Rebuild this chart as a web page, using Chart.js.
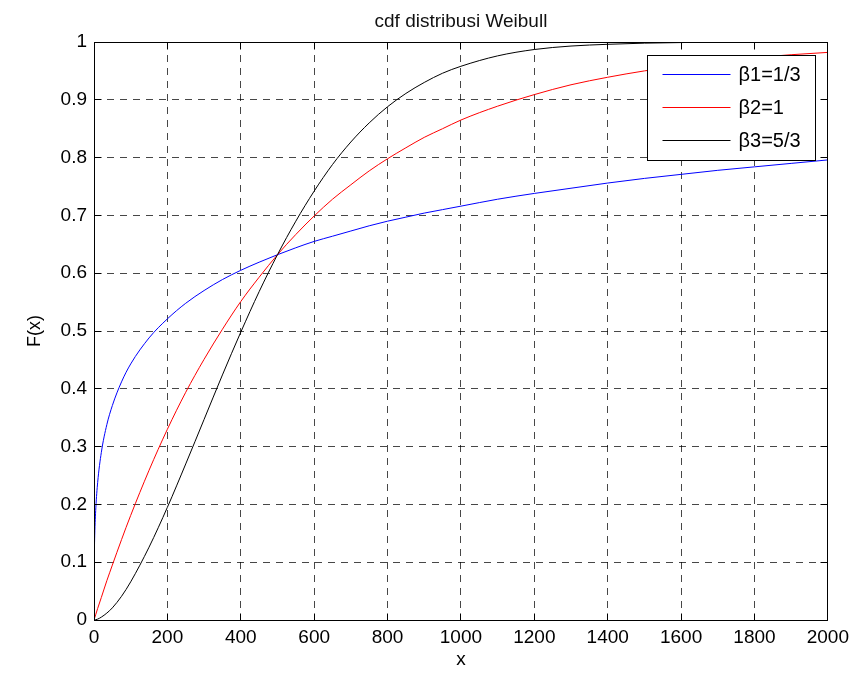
<!DOCTYPE html>
<html>
<head>
<meta charset="utf-8">
<script src="https://cdn.jsdelivr.net/npm/chart.js@4/dist/chart.umd.min.js"></script>
<style>
  html, body { margin: 0; padding: 0; background: #ffffff; }
  canvas { display: block; }
</style>
</head>
<body>
<canvas id="c" width="855" height="675"></canvas>
<script>
// ---- data ----
const xs = [0, 0.5, 1, 2, 5, 10, 20, 35, 50, 75,
            100, 150, 200, 250, 300, 350, 400, 450, 500, 550,
            600, 650, 700, 750, 800, 850, 900, 950, 1000,
            1100, 1200, 1300, 1400, 1500, 1600, 1700, 1800, 1900, 2000];

const beta1 = [0, 0.095, 0.118, 0.147, 0.194, 0.238, 0.290, 0.338, 0.371, 0.412,
               0.443, 0.488, 0.521, 0.548, 0.570, 0.589, 0.605, 0.619, 0.632, 0.644,
               0.655, 0.664, 0.673, 0.682, 0.690, 0.697, 0.704, 0.710, 0.716,
               0.728, 0.738, 0.747, 0.756, 0.764, 0.771, 0.778, 0.784, 0.790, 0.796];

const beta2 = [0, 0.001, 0.002, 0.004, 0.010, 0.020, 0.039, 0.068, 0.095, 0.139,
               0.181, 0.259, 0.330, 0.394, 0.451, 0.503, 0.551, 0.593, 0.632, 0.667,
               0.699, 0.728, 0.753, 0.777, 0.798, 0.817, 0.835, 0.850, 0.865,
               0.889, 0.909, 0.926, 0.939, 0.950, 0.959, 0.967, 0.973, 0.978, 0.982];

const beta3 = [0, 0, 0, 0, 0.0005, 0.0015, 0.005, 0.012, 0.021, 0.041,
               0.066, 0.126, 0.195, 0.270, 0.347, 0.424, 0.498, 0.568, 0.632, 0.690,
               0.742, 0.788, 0.827, 0.860, 0.888, 0.911, 0.930, 0.946, 0.958,
               0.976, 0.987, 0.993, 0.996, 0.998, 0.999, 1.0, 1.0, 1.0, 1.0];

const seriesLabels = ['\u03B21=1/3', '\u03B22=1', '\u03B23=5/3'];
const xTicks = [0, 200, 400, 600, 800, 1000, 1200, 1400, 1600, 1800, 2000];
const yTicks = [0, 0.1, 0.2, 0.3, 0.4, 0.5, 0.6, 0.7, 0.8, 0.9, 1];
const yTickLabels = ['0', '0.1', '0.2', '0.3', '0.4', '0.5', '0.6', '0.7', '0.8', '0.9', '1'];

const FONT = "'Liberation Sans', Arial, sans-serif";

function pts(vals) { return xs.map((x, i) => ({ x: x, y: vals[i] })); }

function align(p) { return Math.round(p - 0.5) + 0.5; }

const framePlugin = {
  id: 'frame',
  afterDraw(chart) {
    const { ctx, chartArea: a, scales } = chart;
    const L = align(a.left), R = align(a.right), T = align(a.top), B = align(a.bottom);
    ctx.save();
    ctx.setLineDash([]);
    ctx.strokeStyle = '#000';
    ctx.lineWidth = 1;
    ctx.beginPath();
    ctx.rect(L, T, R - L, B - T);
    ctx.stroke();
    // inward tick marks
    const tl = 7;
    ctx.beginPath();
    xTicks.forEach(v => {
      const px = align(scales.x.getPixelForValue(v));
      ctx.moveTo(px, B); ctx.lineTo(px, B - tl);
      ctx.moveTo(px, T); ctx.lineTo(px, T + tl);
    });
    yTicks.forEach(v => {
      const py = align(scales.y.getPixelForValue(v));
      ctx.moveTo(L, py); ctx.lineTo(L + tl, py);
      ctx.moveTo(R, py); ctx.lineTo(R - tl, py);
    });
    ctx.stroke();

    // legend box
    const bx = align(a.right - 180), by = align(a.top + 13);
    const bw = 168, bh = 105;
    ctx.fillStyle = '#fff';
    ctx.fillRect(bx, by, bw, bh);
    ctx.strokeStyle = '#000';
    ctx.strokeRect(bx, by, bw, bh);
    ctx.font = '20px ' + FONT;
    ctx.textBaseline = 'middle';
    ctx.textAlign = 'left';
    chart.data.datasets.forEach((ds, i) => {
      const ly = align(by + 19 + i * 33);
      ctx.strokeStyle = ds.borderColor;
      ctx.beginPath();
      ctx.moveTo(bx + 15, ly);
      ctx.lineTo(bx + 83, ly);
      ctx.stroke();
      ctx.fillStyle = '#000';
      ctx.fillText(ds.label, bx + 91, ly + 1);
    });
    ctx.restore();
  }
};

new Chart(document.getElementById('c'), {
  type: 'line',
  data: {
    datasets: [
      { label: seriesLabels[0], data: pts(beta1), borderColor: '#0000ff', order: 2 },
      { label: seriesLabels[1], data: pts(beta2), borderColor: '#ff0000', order: 1 },
      { label: seriesLabels[2], data: pts(beta3), borderColor: '#000000', order: 0 }
    ]
  },
  options: {
    responsive: false,
    animation: false,
    devicePixelRatio: 1,
    layout: { padding: { left: 0, right: 27, top: 8, bottom: 0 } },
    elements: {
      line: { borderWidth: 1, fill: false, cubicInterpolationMode: 'monotone' },
      point: { radius: 0, hoverRadius: 0 }
    },
    plugins: {
      legend: { display: false },
      tooltip: { enabled: false },
      title: {
        display: true,
        fullSize: false,
        text: 'cdf distribusi Weibull',
        color: '#111',
        font: { family: FONT, size: 19, weight: 'normal' },
        padding: { top: 2, bottom: 9.2 }
      }
    },
    scales: {
      x: {
        type: 'linear',
        min: 0, max: 2000,
        afterBuildTicks: s => { s.ticks = xTicks.map(v => ({ value: v })); },
        afterFit: s => { s.height = 55; },
        ticks: {
          color: '#000',
          font: { family: FONT, size: 19 },
          padding: 6,
          maxRotation: 0,
          callback: v => String(v)
        },
        grid: { color: 'rgba(0,0,0,0.72)', lineWidth: 1, drawTicks: false },
        border: { display: false, dash: [7, 6] },
        title: {
          display: true, text: 'x', color: '#000',
          font: { family: FONT, size: 19 },
          padding: { top: 0, bottom: 4 }
        }
      },
      y: {
        type: 'linear',
        min: 0, max: 1,
        afterBuildTicks: s => { s.ticks = yTicks.map(v => ({ value: v })); },
        afterFit: s => { s.width = 94; },
        ticks: {
          color: '#000',
          font: { family: FONT, size: 19 },
          padding: 7,
          callback: (v) => { const i = yTicks.findIndex(t => Math.abs(t - v) < 1e-9); return i >= 0 ? yTickLabels[i] : ''; }
        },
        grid: { color: 'rgba(0,0,0,0.72)', lineWidth: 1, drawTicks: false },
        border: { display: false, dash: [7, 6] },
        title: {
          display: true, text: 'F(x)', color: '#000',
          font: { family: FONT, size: 18 },
          padding: { top: 24, bottom: 0 }
        }
      }
    }
  },
  plugins: [framePlugin]
});
</script>
</body>
</html>
